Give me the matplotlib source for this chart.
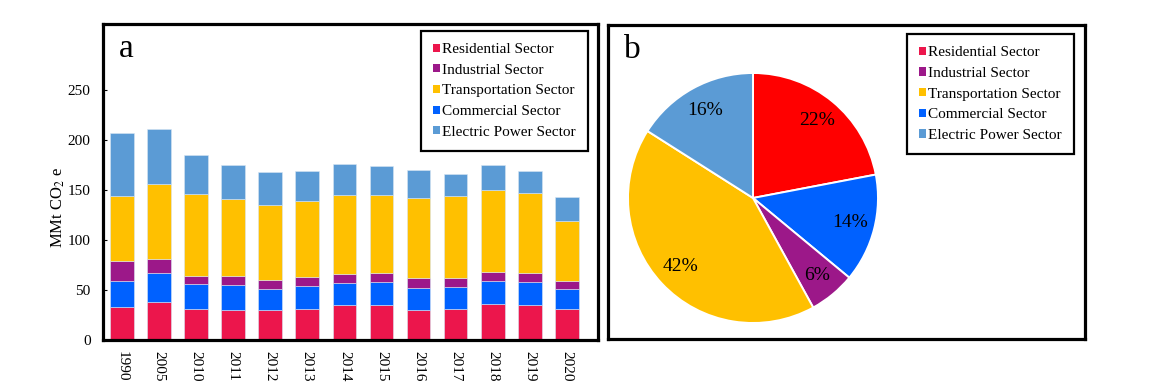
import numpy as np
import matplotlib
matplotlib.use('Agg')
import matplotlib.pyplot as plt
from matplotlib.patches import Patch

plt.rcParams['font.family'] = ['Liberation Serif', 'DejaVu Serif']
plt.rcParams['mathtext.fontset'] = 'stix'

years = ['1990', '2005', '2010', '2011', '2012', '2013', '2014',
         '2015', '2016', '2017', '2018', '2019', '2020']

# stacked segment heights, MMt CO2e (bottom to top)
residential = [33, 38, 31, 30, 30, 31, 35, 35, 30, 31, 36, 35, 31]
commercial = [26, 29, 25, 25, 21, 23, 22, 23, 22, 22, 23, 23, 20]
industrial = [20, 14, 8, 9, 9, 9, 9, 9, 10, 9, 9, 9, 8]
transportation = [65, 75, 82, 77, 75, 76, 79, 78, 80, 82, 82, 80, 60]
electric = [63, 55, 39, 34, 33, 30, 31, 29, 28, 22, 25, 22, 24]

# pie shares (%), clockwise from the top
pie_labels = ['Residential Sector', 'Commercial Sector', 'Industrial Sector',
              'Transportation Sector', 'Electric Power Sector']
pie_share = [22, 14, 6, 42, 16]

legend_names = ['Residential Sector', 'Industrial Sector', 'Transportation Sector',
                'Commercial Sector', 'Electric Power Sector']

c_res = '#EC164C'
c_ind = '#9C1889'
c_tra = '#FFC000'
c_com = '#0061FF'
c_ele = '#5B9BD5'
c_red = '#FF0000'

W, H = 1155, 388
fig = plt.figure(figsize=(W / 100, H / 100), dpi=100)


def box(x0, y0, x1, y1):
    return [x0 / W, 1 - y1 / H, (x1 - x0) / W, (y1 - y0) / H]


def legend_handles():
    cols = [c_res, c_ind, c_tra, c_com, c_ele]
    return [Patch(facecolor=c, edgecolor='none') for c in cols]


def add_legend(ax, anchor):
    leg = ax.legend(legend_handles(), legend_names, loc='upper right',
                    bbox_to_anchor=anchor, borderaxespad=0, fancybox=False,
                    framealpha=1, edgecolor='black', fontsize=11,
                    handlelength=0.45, handleheight=0.45, handletextpad=0.15,
                    labelspacing=0.5, borderpad=0.8)
    leg.get_frame().set_linewidth(1.6)
    return leg


# ---- panel a: stacked bars
ax = fig.add_axes(box(103, 24, 598, 340))
x = np.arange(len(years))
bw = 0.64
bottom = np.zeros(len(years))
for vals, col in [(residential, c_res), (commercial, c_com), (industrial, c_ind),
                  (transportation, c_tra), (electric, c_ele)]:
    ax.bar(x, vals, bw, bottom=bottom, color=col, edgecolor='#d8e6f3', linewidth=0.4)
    bottom += np.array(vals)

ax.set_xlim(-0.51, 12.84)
ax.set_ylim(0, 316)
ax.set_yticks([0, 50, 100, 150, 200, 250])
ax.set_xticks(x)
ax.set_xticklabels(years, rotation=270, fontsize=11)
ax.tick_params(axis='y', direction='in', length=3, width=0.8, labelsize=11, pad=9)
ax.tick_params(axis='x', length=0, pad=8)
for s in ax.spines.values():
    s.set_linewidth(2.3)
ax.set_ylabel(r'MMt CO$_{2}$ e', fontsize=12)
ax.yaxis.set_label_coords(-0.072, 0.42)
ax.text(0.032, 0.896, 'a', transform=ax.transAxes, fontsize=24, va='baseline', ha='left')
add_legend(ax, (0.98, 0.978))

# ---- panel b: pie
axf = fig.add_axes(box(608, 25, 1085, 339))
axf.set_xticks([])
axf.set_yticks([])
for s in axf.spines.values():
    s.set_linewidth(2.3)
axf.text(0.034, 0.894, 'b', transform=axf.transAxes, fontsize=24, va='baseline', ha='left')
add_legend(axf, (0.977, 0.971))

axp = fig.add_axes(box(628, 73, 878, 323))
axp.pie(pie_share, colors=[c_red, c_com, c_ind, c_tra, c_ele], startangle=90,
        counterclock=False, autopct='%1.0f%%', pctdistance=0.8, radius=1,
        wedgeprops=dict(edgecolor='white', linewidth=1.4),
        textprops=dict(fontsize=14, color='black'))
axp.set_xlim(-1, 1)
axp.set_ylim(-1, 1)

fig.savefig('out.png', dpi=100)
